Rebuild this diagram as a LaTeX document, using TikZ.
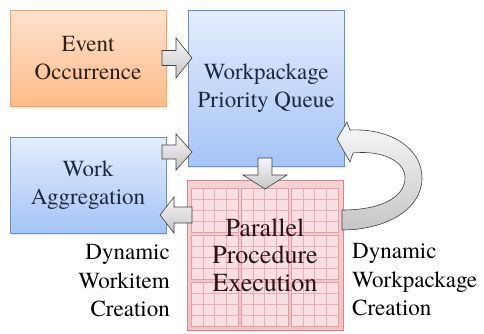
\documentclass[tikz,border=0pt]{standalone}
\usepackage{fontspec}
\setmainfont{texgyretermes}[Extension=.otf, UprightFont=*-regular, BoldFont=*-bold, ItalicFont=*-italic]
\usetikzlibrary{shadows}

\definecolor{evttop}{HTML}{FDE2CF}
\definecolor{evtbot}{HTML}{FDBC88}
\definecolor{evtline}{HTML}{F7A468}
\definecolor{evttext}{HTML}{2E2018}
\definecolor{quetop}{HTML}{E4EDFC}
\definecolor{quebot}{HTML}{A6C4F7}
\definecolor{queline}{HTML}{6A90CC}
\definecolor{quetext}{HTML}{1C2840}
\definecolor{partop}{HTML}{F6D2D3}
\definecolor{parbot}{HTML}{F2C2C4}
\definecolor{parline}{HTML}{DE8488}
\definecolor{cellfill}{HTML}{F8E0E2}
\definecolor{cellgrid}{HTML}{E8AFB2}
\definecolor{celledge}{HTML}{DDA0A4}
\definecolor{partext}{HTML}{2A1414}

\begin{document}
\begin{tikzpicture}[x=1pt,y=-1pt,
  box/.style={draw, line width=0.8pt, align=center, inner sep=0pt,
    minimum width=156pt, font=\rmfamily\fontsize{23}{28}\selectfont,
    drop shadow={opacity=0.2, shadow xshift=1pt, shadow yshift=-1.5pt}},
  evtbox/.style={box, draw=evtline, top color=evttop, bottom color=evtbot, text=evttext},
  quebox/.style={box, draw=queline, top color=quetop, bottom color=quebot, text=quetext},
  parbox/.style={box, draw=parline, top color=partop, bottom color=parbot},
  sidelbl/.style={align=#1, inner sep=0pt, font=\rmfamily\fontsize{23}{28.5}\selectfont},
  flowarrow/.style={draw=black!75, line width=0.6pt, line join=miter,
    top color=gray!6, bottom color=gray!45}]
  \useasboundingbox (0,0) rectangle (484,333);

  % boxes
  \node[evtbox, minimum height=96pt] (evt) at (88,58) {Event\\Occurrence};
  \node[quebox, minimum height=156pt] (que) at (266,88) {Workpackage\\Priority Queue};
  \node[quebox, minimum height=96pt] (agg) at (88,185) {Work\\Aggregation};
  \node[parbox, minimum width=156pt, minimum height=150pt] (par) at (265,255) {};

  % 3x3 blocks of 4x4 work items
  \foreach \cx in {191,241,291}
    \foreach \cy in {188,235,282} {
      \fill[cellfill] (\cx,\cy) rectangle ++(47,44);
      \foreach \i in {1,2,3} {
        \draw[cellgrid, line width=0.5pt] (\cx+\i*11.75,\cy) -- ++(0,44);
        \draw[cellgrid, line width=0.5pt] (\cx,\cy+\i*11) -- ++(47,0);
      }
      \draw[celledge, line width=1pt] (\cx,\cy) rectangle ++(47,44);
    }
  \node[align=center, text=partext, font=\rmfamily\fontsize{26}{27.5}\selectfont] (partxt) at (par.center) {Parallel\\Procedure\\Execution};

  % side labels
  \node[sidelbl=right, anchor=east] (wilbl) at (170,281) {Dynamic\\Workitem\\Creation};
  \node[sidelbl=left, anchor=west] (wplbl) at (352,280) {Dynamic\\Workpackage\\Creation};

  % block arrows between the boxes
  \draw[flowarrow] (162,50.5) -- (176,50.5) -- (176,38) -- (192,58) -- (176,78) -- (176,65.5) -- (162,65.5) -- cycle;
  \draw[flowarrow] (162,145) -- (176,145) -- (176,134) -- (192,152) -- (176,170) -- (176,159) -- (162,159) -- cycle;
  \draw[flowarrow] (258,158) -- (258,175) -- (243,175) -- (265,189) -- (287,175) -- (272,175) -- (272,158) -- cycle;
  \draw[flowarrow] (192,207) -- (174,207) -- (174,197) -- (160,215) -- (174,233) -- (174,223) -- (192,223) -- cycle;

  % feedback arrow back into the queue
  \draw[flowarrow] (342,230) .. controls (385,230) and (422,210) .. (422,178)
    .. controls (422,148) and (390,128) .. (350,130) -- (347,122) -- (337,139)
    -- (350,162) -- (353,153) .. controls (380,150) and (405,160) .. (405,178)
    .. controls (405,195) and (385,210) .. (342,210) -- cycle;
\end{tikzpicture}
\end{document}
